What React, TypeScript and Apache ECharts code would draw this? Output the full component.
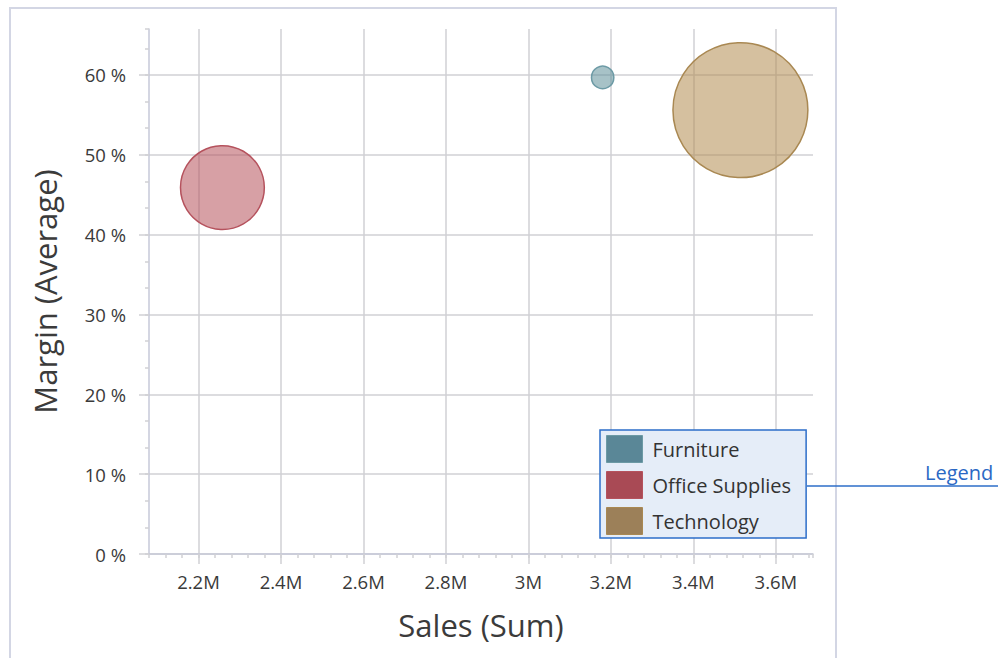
import React, { useEffect, useRef } from "react";
import * as echarts from "echarts";

// ---- data ----
const categories = ["Furniture", "Office Supplies", "Technology"];
const sales = [3180000, 2258000, 3514000];
const margins = [59.7, 45.9, 55.6];
// bubble weight, expressed in margin-axis units (%)
const weights = [2.8, 10.5, 16.9];
const xTickValues = [2200000, 2400000, 2600000, 2800000, 3000000, 3200000, 3400000, 3600000];
const yTickValues = [0, 10, 20, 30, 40, 50, 60];

// ---- styles ----
const legendColors = ["#5a8797", "#a94a55", "#9c8059"];
const fillColors = ["rgba(95,144,153,0.55)", "rgba(182,82,91,0.55)", "rgba(179,140,80,0.55)"];
const borderColors = ["#6c9aa5", "#b5525d", "#a98852"];
const FONT = "'Open Sans', 'Noto Sans', sans-serif";
const X_MIN = 2080000;
const X_MAX = 3690000;
const Y_MIN = 0;
const Y_MAX = 65.76;
const GRID = { left: 149, right: 185, top: 29, bottom: 104 };
const W = 998;
const H = 658;

function fmtSales(v: number) {
  const m = v / 1e6;
  return (Math.round(m * 10) / 10).toString() + "M";
}

export default function App() {
  const ref = useRef<HTMLDivElement>(null);
  useEffect(() => {
    if (!ref.current) return;
    const chart = echarts.init(ref.current, undefined, { renderer: "svg", width: W, height: H });
    const plotH = H - GRID.top - GRID.bottom;
    const pxPerUnit = plotH / (Y_MAX - Y_MIN);

    const gridColor = "#d0d0d4";
    const axisColor = "#c6c9d8";
    const labelColor = "#3a3a3a";

    const series = categories.map((name, i) => ({
      name,
      type: "scatter",
      xAxisIndex: 0,
      yAxisIndex: 0,
      data: [[sales[i], margins[i], weights[i]]],
      symbol: "circle",
      symbolSize: (val: number[]) => val[2] * pxPerUnit,
      itemStyle: {
        color: fillColors[i],
        borderColor: borderColors[i],
        borderWidth: 1.5,
        opacity: 1,
      },
      emphasis: { disabled: true },
    }));

    chart.setOption({
      animation: false,
      textStyle: { fontFamily: FONT },
      grid: { ...GRID, containLabel: false },
      xAxis: [
        {
          type: "value",
          min: X_MIN,
          max: X_MAX,
          splitNumber: 8,
          minInterval: 200000,
          maxInterval: 200000,
          name: "Sales (Sum)",
          nameLocation: "middle",
          nameGap: 55,
          nameTextStyle: { fontSize: 31, color: "#3b3b3b", fontFamily: FONT },
          axisLine: { show: true, lineStyle: { color: axisColor, width: 1.5 } },
          axisTick: {
            show: true,
            length: 10,
            customValues: xTickValues,
            lineStyle: { color: gridColor, width: 1.5 },
          },
          axisLabel: {
            customValues: xTickValues,
            formatter: (v: number) => fmtSales(v),
            fontSize: 18.5,
            color: labelColor,
            margin: 18,
            fontFamily: FONT,
          },
          splitLine: { show: true, lineStyle: { color: gridColor, width: 1.5 } },
        },
        {
          type: "value",
          position: "bottom",
          min: X_MIN,
          max: X_MAX,
          interval: 40000,
          axisLine: { show: false },
          axisTick: { show: true, length: 4, lineStyle: { color: gridColor, width: 1.5 } },
          axisLabel: { show: false },
          splitLine: { show: false },
        },
      ],
      yAxis: [
        {
          type: "value",
          min: Y_MIN,
          max: Y_MAX,
          interval: 10,
          name: "Margin (Average)",
          nameLocation: "middle",
          nameGap: 89,
          nameTextStyle: { fontSize: 31, color: "#3b3b3b", fontFamily: FONT },
          axisLine: { show: true, lineStyle: { color: axisColor, width: 1.5 } },
          axisTick: {
            show: true,
            length: 10,
            customValues: yTickValues,
            lineStyle: { color: gridColor, width: 1.5 },
          },
          axisLabel: {
            customValues: yTickValues,
            formatter: (v: number) => Math.round(v) + " %",
            fontSize: 18.5,
            color: labelColor,
            margin: 23,
            fontFamily: FONT,
          },
          splitLine: { show: true, lineStyle: { color: gridColor, width: 1.5 } },
        },
        {
          type: "value",
          position: "left",
          min: Y_MIN,
          max: Y_MAX,
          interval: 10 / 3,
          axisLine: { show: false },
          axisTick: { show: true, length: 4, lineStyle: { color: gridColor, width: 1.5 } },
          axisLabel: { show: false },
          splitLine: { show: false },
        },
      ],
      legend: {
        orient: "vertical",
        left: 600,
        top: 430,
        backgroundColor: "#e5edf8",
        borderColor: "#2d6ec9",
        borderWidth: 1.5,
        borderRadius: 0,
        padding: [5, 15, 3, 6],
        itemWidth: 36,
        itemHeight: 27,
        itemGap: 8,
        selectedMode: false,
        textStyle: {
          fontSize: 20,
          lineHeight: 26,
          color: "#333333",
          fontFamily: FONT,
          padding: [0, 0, 0, 5],
        },
        data: categories.map((name, i) => ({
          name,
          icon: "rect",
          itemStyle: { color: legendColors[i], borderColor: borderColors[i], borderWidth: 1, opacity: 1 },
        })),
      },
      graphic: [
        {
          type: "rect",
          z: -10,
          silent: true,
          shape: { x: 10, y: 8, width: 826, height: 700 },
          style: { fill: "none", stroke: "#d3d6e4", lineWidth: 2 },
        },
        {
          type: "line",
          silent: true,
          shape: { x1: 807, y1: 486, x2: 998, y2: 486 },
          style: { stroke: "#2d6ec9", lineWidth: 1.5 },
        },
        {
          type: "text",
          silent: true,
          x: 925,
          y: 472,
          style: {
            text: "Legend",
            fontSize: 20,
            fontFamily: FONT,
            fill: "#2a68c4",
            verticalAlign: "middle",
            align: "left",
          },
        },
      ],
      series,
    });
    return () => chart.dispose();
  }, []);
  return (
    <div
      ref={ref}
      style={{ position: "absolute", left: 0, top: 0, width: W, height: H, background: "#ffffff" }}
    />
  );
}
